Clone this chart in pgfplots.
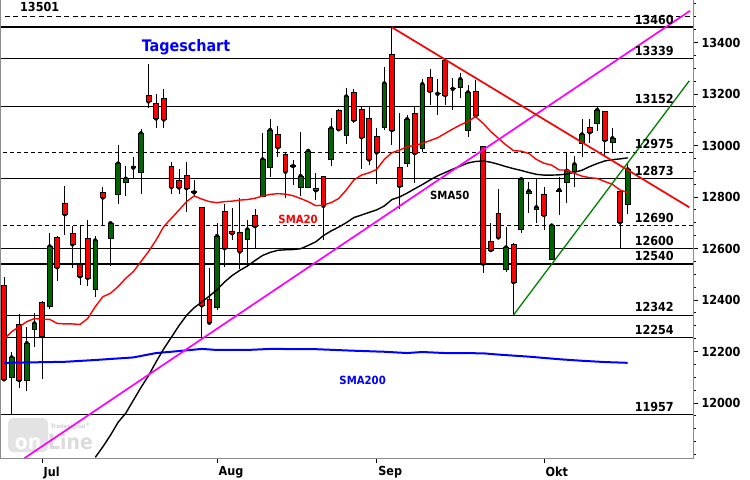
\documentclass[border=0pt]{standalone}
\usepackage{pgfplots}
\usepackage{pgfplotstable}
\pgfplotsset{compat=1.18}
\usepackage{fontspec}
\setmainfont{DejaVu Sans}
\newfontfamily\cbold{DejaVu Sans Condensed Bold}
\definecolor{cgreen}{HTML}{006400}
\definecolor{cred}{HTML}{FF0000}
\definecolor{framegray}{HTML}{8C8C8C}
\definecolor{smablue}{HTML}{0000FF}
\definecolor{magL}{HTML}{FF00FF}
\definecolor{tgreen}{HTML}{008000}
\newcommand\lblfont{\cbold\fontsize{12.5}{12.5}\selectfont}
\newcommand\smafont{\cbold\fontsize{11.3}{11.3}\selectfont}

\pgfplotstableread{
i o h l c
0 12457 12488 12085 12092
1 12099 12199 11957 12177
2 12305 12346 12059 12089
3 12089 12296 12046 12232
4 12286 12348 12219 12309
5 12391 12395 12092 12260
6 12374 12659 12366 12608
7 12644 12648 12475 12527
8 12777 12842 12652 12733
9 12659 12688 12523 12616
10 12537 12690 12458 12492
11 12639 12710 12455 12486
12 12441 12648 12413 12631
13 12818 12840 12690 12798
14 12639 12702 12532 12698
15 12810 13002 12771 12930
16 12857 12920 12805 12871
17 12918 12957 12868 12914
18 12894 13064 12810 13047
19 13195 13316 13147 13171
20 13164 13200 13066 13105
21 13183 13219 13069 13101
22 12918 12937 12810 12839
23 12865 12909 12810 12837
24 12884 12934 12743 12834
25 12822 12866 12801 12818
26 12758 12762 12251 12379
27 12402 12523 12305 12312
28 12371 12700 12361 12648
29 12744 12773 12527 12601
30 12668 12756 12633 12659
31 12664 12798 12519 12588
32 12635 12710 12529 12674
33 12727 12752 12601 12687
34 12804 13047 12800 12946
35 12915 13103 12879 13060
36 13043 13076 12954 12993
37 12966 12970 12797 12898
38 12923 12944 12846 12920
39 12837 13051 12804 12881
40 12837 12983 12834 12979
41 12832 12892 12788 12826
42 12879 12883 12633 12766
43 12946 13105 12922 13067
44 13135 13140 13056 13063
45 13039 13222 13006 13190
46 13205 13218 13086 13099
47 13140 13148 12907 13032
48 13105 13153 12924 12946
49 13034 13067 12849 12973
50 13069 13304 13060 13241
51 13354 13459 13002 13060
52 12915 13125 12752 12843
53 12931 13118 12918 13102
54 13125 13153 12855 12970
55 12989 13257 12976 13238
56 13265 13296 13157 13212
57 13204 13257 13118 13201
58 13332 13338 13157 13196
59 13223 13261 13138 13220
60 13224 13280 13183 13257
61 13058 13235 13034 13206
62 13209 13254 13105 13116
63 12995 12998 12503 12541
64 12629 12698 12590 12594
65 12737 12830 12640 12643
66 12519 12682 12510 12604
67 12616 12620 12342 12469
68 12674 12872 12659 12869
69 12816 12860 12737 12823
70 12753 12869 12698 12760
71 12812 12840 12672 12730
72 12558 12691 12555 12689
73 12822 12879 12730 12827
74 12856 12970 12778 12902
75 12898 12959 12840 12927
76 13008 13102 12957 13043
77 13071 13103 13008 13051
78 13086 13148 13058 13138
79 13133 13135 12963 13021
80 13012 13067 12976 13028
81 12821 12823 12601 12702
82 12771 12931 12733 12907
}\candles

\pgfplotstableread{
i v
0 12247
1 12277
2 12296
3 12316
4 12328
5 12325
6 12325
7 12309
8 12307
9 12307
10 12305
11 12328
12 12374
13 12413
14 12426
15 12452
16 12484
17 12510
18 12549
19 12588
20 12633
21 12685
22 12717
23 12749
24 12782
25 12804
26 12792
27 12782
28 12778
29 12782
30 12784
31 12788
32 12790
33 12795
34 12804
35 12810
36 12813
37 12811
38 12805
39 12794
40 12782
41 12766
42 12769
43 12778
44 12794
45 12827
46 12866
47 12885
48 12894
49 12907
50 12946
51 12972
52 12982
53 12995
54 13000
55 13008
56 13019
57 13030
58 13047
59 13064
60 13080
61 13093
62 13112
63 13086
64 13054
65 13028
66 13002
67 12980
68 12978
69 12969
70 12946
71 12931
72 12924
73 12905
74 12905
75 12892
76 12881
77 12875
78 12872
79 12860
80 12849
81 12827
82 12817
}\smatwenty

\pgfplotstableread{
i v
12 11789
13 11830
14 11875
15 11925
16 11960
17 12010
18 12060
19 12106
20 12160
21 12210
22 12255
23 12300
24 12340
25 12370
26 12392
27 12415
28 12440
29 12470
30 12495
31 12515
32 12532
33 12553
34 12573
35 12585
36 12593
37 12595
38 12596
39 12599
40 12612
41 12626
42 12650
43 12668
44 12683
45 12700
46 12720
47 12730
48 12740
49 12750
50 12765
51 12790
52 12800
53 12815
54 12832
55 12848
56 12866
57 12882
58 12895
59 12908
60 12920
61 12932
62 12938
63 12940
64 12935
65 12927
66 12918
67 12910
68 12903
69 12895
70 12888
71 12885
72 12885
73 12886
74 12889
75 12896
76 12904
77 12918
78 12930
79 12940
80 12945
81 12948
82 12952
}\smafifty

\pgfplotstableread{
i v
0 12156
8 12160
12 12167
17 12177
20 12194
22 12199
26 12210
28 12206
32 12206
35 12210
41 12209
46 12203
50 12199
53 12194
55 12198
58 12194
63 12193
65 12188
69 12180
73 12170
76 12164
79 12159
82 12156
}\smatwohundred

\pgfplotsset{base/.style={scale only axis, width=693bp, height=458bp,
  xmin=-0.526, xmax=90.59, ymin=11786.4, ymax=13565, enlargelimits=false,
  at={(0,0)}, anchor=north west}}

\begin{document}
\begin{tikzpicture}
\path[use as bounding box] (0,0) rectangle (750bp,-480bp);
% layer 1: horizontal levels, logo, wicks
\begin{axis}[base, hide axis]
\node[fill=gray!22, rounded corners=5bp, minimum width=40bp, minimum height=34bp, inner sep=0pt] at (axis cs:3.16,11875.7) {};
\node[anchor=base, text=white, font=\cbold\fontsize{21}{21}\selectfont, inner sep=0pt] at (axis cs:3.16,11817.5) {on};
\node[anchor=base west, text=gray!28, font=\cbold\fontsize{21}{21}\selectfont, inner sep=0pt] at (axis cs:5.79,11817.5) {Line};
\node[anchor=base west, text=gray!35, font=\cbold\fontsize{6}{6}\selectfont, inner sep=0pt] at (axis cs:6.1,11900) {Tradesignal\textsuperscript{®}};
\addplot[black, line width=1.5bp, dash pattern=on 5bp off 3.5bp] coordinates {(-1,13501) (92,13501)};
\addplot[black, line width=1.5bp] coordinates {(-1,13460) (92,13460)};
\addplot[black, line width=0.8bp] coordinates {(-1,13339) (92,13339)};
\addplot[black, line width=1.5bp] coordinates {(-1,13152) (92,13152)};
\addplot[black, line width=0.8bp, dash pattern=on 4bp off 3bp] coordinates {(-1,12975) (92,12975)};
\addplot[black, line width=0.8bp] coordinates {(-1,12873) (92,12873)};
\addplot[black, line width=0.8bp, dash pattern=on 4bp off 3bp] coordinates {(-1,12690) (92,12690)};
\addplot[black, line width=0.8bp] coordinates {(-1,12600) (92,12600)};
\addplot[black, line width=1.5bp] coordinates {(-1,12540) (92,12540)};
\addplot[black, line width=0.8bp] coordinates {(-1,12342) (92,12342)};
\addplot[black, line width=1.5bp] coordinates {(-1,12254) (92,12254)};
\addplot[black, line width=0.8bp] coordinates {(-1,11957) (92,11957)};
\addplot[only marks, mark=none, black, error bars/.cd, y dir=both, y explicit, error mark=none,
  error bar style={black, line width=0.8bp}]
  table[x=i, y=c, y error plus expr=\thisrow{h}-\thisrow{c}, y error minus expr=\thisrow{c}-\thisrow{l}] {\candles};
\end{axis}
% layer 2: candle bodies
\begin{axis}[base, hide axis, ybar stacked, bar width=4.8bp]
\addplot[draw=none, fill=none] table[x=i, y expr={min(\thisrow{o},\thisrow{c})}] {\candles};
\addplot[fill=cgreen, draw=black, line width=0.7bp] table[x=i, y expr={max(\thisrow{c}-\thisrow{o},0)}] {\candles};
\addplot[fill=cred, draw=black, line width=0.7bp] table[x=i, y expr={max(\thisrow{o}-\thisrow{c},0)}] {\candles};
\end{axis}
% layer 3: indicators, trendlines, labels, frame
\begin{axis}[base,
  axis line style={framegray, line width=1bp},
  ytick pos=right, yticklabel pos=right, xtick pos=bottom,
  tick align=outside, major tick length=5bp, minor tick length=3bp,
  every tick/.style={black, line width=0.8bp},
  ytick={12000,12200,12400,12600,12800,13000,13200,13400},
  minor ytick={11800,11850,...,13550},
  scaled y ticks=false,
  yticklabel style={font=\lblfont, /pgf/number format/1000 sep={}, /pgf/number format/assume math mode=true},
  xtick={5,28,49,71}, xticklabels={Jul,Aug,Sep,Okt},
  xticklabel style={font=\lblfont, anchor=north west, inner sep=0pt, xshift=1.5bp, yshift=-3.5bp},
  clip=true]
\addplot[smablue, line width=2bp] table[x=i, y=v] {\smatwohundred};
\addplot[black, line width=1.4bp] table[x=i, y=v] {\smafifty};
\addplot[cred, line width=1.4bp] table[x=i, y=v] {\smatwenty};
\addplot[magL, line width=1.7bp] coordinates {(2.7,11786) (90.2,13523)};
\addplot[cred, line width=1.7bp] coordinates {(51,13459) (90.1,12760)};
\addplot[tgreen, line width=1.3bp] coordinates {(67,12342) (90.1,13251)};
\node[anchor=base west, inner sep=0pt, font=\lblfont] at (axis cs:2.1,13519.6) {13501};
\node[anchor=base west, inner sep=0pt, text=smablue, font=\cbold\fontsize{16}{16}\selectfont] at (axis cs:18.1,13364.3) {Tageschart};
\node[anchor=base west, inner sep=0pt, text=cred, font=\smafont] at (axis cs:36.06,12697.9) {SMA20};
\node[anchor=base west, inner sep=0pt, text=black, font=\smafont] at (axis cs:56.0,12791) {SMA50};
\node[anchor=base west, inner sep=0pt, text=smablue, font=\smafont] at (axis cs:44.08,12072.6) {SMA200};
\node[anchor=base east, inner sep=0pt, yshift=3bp, font=\lblfont] at (axis cs:88.09,13460) {13460};
\node[anchor=base east, inner sep=0pt, yshift=3bp, font=\lblfont] at (axis cs:88.09,13339) {13339};
\node[anchor=base east, inner sep=0pt, yshift=3bp, font=\lblfont] at (axis cs:88.09,13152) {13152};
\node[anchor=base east, inner sep=0pt, yshift=3bp, font=\lblfont] at (axis cs:88.09,12975) {12975};
\node[anchor=base east, inner sep=0pt, yshift=3bp, font=\lblfont] at (axis cs:88.09,12873) {12873};
\node[anchor=base east, inner sep=0pt, yshift=3bp, font=\lblfont] at (axis cs:88.09,12690) {12690};
\node[anchor=base east, inner sep=0pt, yshift=3bp, font=\lblfont] at (axis cs:88.09,12600) {12600};
\node[anchor=base east, inner sep=0pt, yshift=3bp, font=\lblfont] at (axis cs:88.09,12540) {12540};
\node[anchor=base east, inner sep=0pt, yshift=3bp, font=\lblfont] at (axis cs:88.09,12342) {12342};
\node[anchor=base east, inner sep=0pt, yshift=3bp, font=\lblfont] at (axis cs:88.09,12254) {12254};
\node[anchor=base east, inner sep=0pt, yshift=3bp, font=\lblfont] at (axis cs:88.09,11957) {11957};
\end{axis}
\end{tikzpicture}
\end{document}
